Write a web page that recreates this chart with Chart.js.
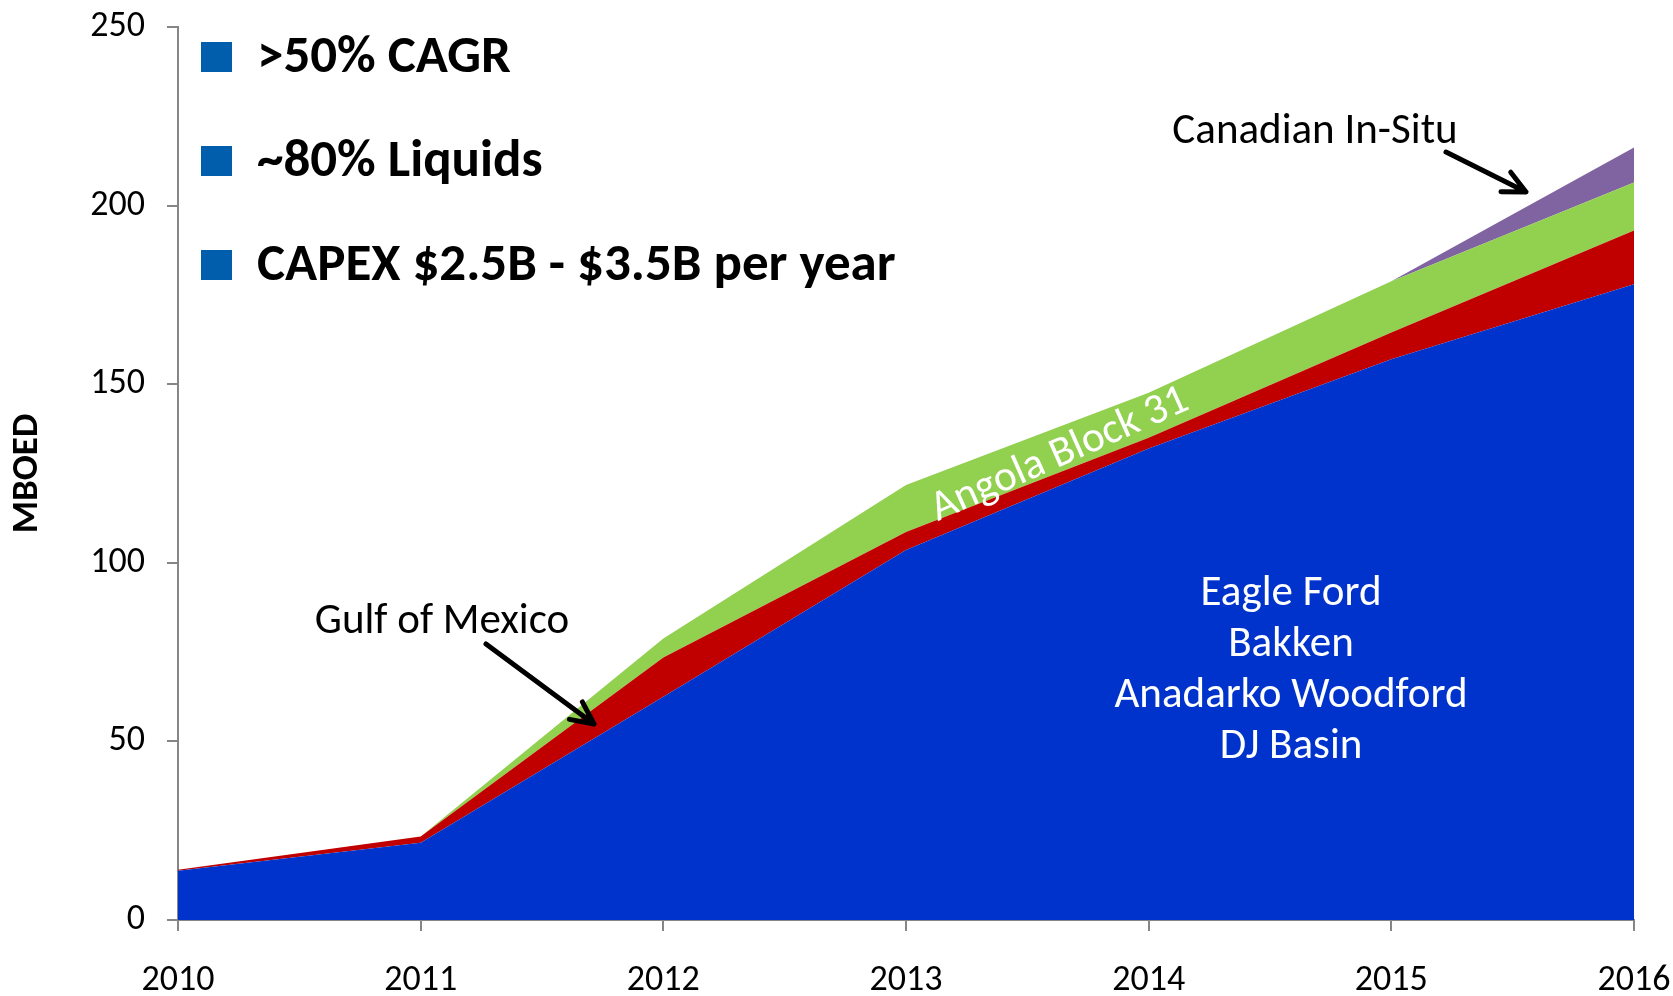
<!DOCTYPE html>
<html>
<head>
<meta charset="utf-8">
<script src="https://cdn.jsdelivr.net/npm/chart.js@4.4.0/dist/chart.umd.min.js"></script>
<style>
  html, body { margin: 0; padding: 0; background: #fff; }
  #wrap { width: 1673px; height: 996px; }
</style>
</head>
<body>
<div id="wrap"><canvas id="prodChart" width="1673" height="996"></canvas></div>
<script>
// chart data
const years = ["2010", "2011", "2012", "2013", "2014", "2015", "2016"];
const onshore = [13.8, 21.6, 62.5, 103.6, 132, 157, 178];   // Eagle Ford, Bakken, ...
const gulfOfMexico = [0.3, 1.8, 11, 5, 3, 7.5, 15];
const angola = [0, 0, 5.3, 13.2, 12.6, 14.3, 13.5];
const canadianInSitu = [0, 0, 0, 0, 0, 0, 9.8];
const yTicks = [0, 50, 100, 150, 200, 250];
const bullets = [">50% CAGR", "~80% Liquids", "CAPEX $2.5B - $3.5B per year"];
const basinNames = ["Eagle Ford", "Bakken", "Anadarko Woodford", "DJ Basin"];

const FONT = "Carlito, Lato, sans-serif";
const AXIS_GREY = "#868686";

function arrow(ctx, x1, y1, x2, y2) {
    const a = Math.atan2(y2 - y1, x2 - x1);
    const h = 25;
    ctx.save();
    ctx.strokeStyle = "#000";
    ctx.lineWidth = 5;
    ctx.lineCap = "round";
    ctx.lineJoin = "round";
    ctx.beginPath();
    ctx.moveTo(x1, y1);
    ctx.lineTo(x2, y2);
    ctx.moveTo(x2 - h * Math.cos(a - 0.45), y2 - h * Math.sin(a - 0.45));
    ctx.lineTo(x2, y2);
    ctx.lineTo(x2 - h * Math.cos(a + 0.45), y2 - h * Math.sin(a + 0.45));
    ctx.stroke();
    ctx.restore();
}

// bullets, labels and arrows drawn on top
const annotations = {
    id: "annotations",
    afterDraw(chart) {
        const ctx = chart.ctx;
        ctx.save();

        // bullet list top-left
        ctx.textBaseline = "middle";
        ctx.textAlign = "left";
        ctx.font = "bold 53px " + FONT;
        bullets.forEach(function (txt, i) {
            const cy = 57 + i * 104;
            ctx.fillStyle = "#005EAD";
            ctx.fillRect(201, cy - 15, 31, 30);
            ctx.fillStyle = "#000";
            ctx.fillText(txt, 257, cy + 2);
        });

        // basin names on the blue area
        ctx.fillStyle = "#fff";
        ctx.textAlign = "center";
        ctx.font = "43px " + FONT;
        basinNames.forEach(function (txt, i) {
            ctx.fillText(txt, 1291, 594 + i * 51);
        });

        // Angola label along the green band
        ctx.save();
        ctx.translate(1060, 455);
        ctx.rotate(-24 * Math.PI / 180);
        ctx.fillText("Angola Block 31", 0, 0);
        ctx.restore();

        // callouts
        ctx.fillStyle = "#000";
        ctx.fillText("Canadian In-Situ", 1315, 132);
        ctx.fillText("Gulf of Mexico", 442, 622);
        arrow(ctx, 1446, 152, 1526, 192);
        arrow(ctx, 486, 644, 594, 724);

        ctx.restore();
    }
};

function area(label, data, color, fill) {
    return {
        label: label,
        data: data,
        backgroundColor: color,
        borderColor: color,
        borderWidth: 0,
        pointRadius: 0,
        fill: fill,
        tension: 0
    };
}

// keep the plot box fixed; labels may overhang into the margins
function noOverhang(s) {
    s.paddingTop = 0;
    s.paddingBottom = 0;
    s.paddingLeft = 0;
    s.paddingRight = 0;
}

new Chart(document.getElementById("prodChart"), {
    type: "line",
    data: {
        labels: years,
        datasets: [
            area("Onshore", onshore, "#0033CC", "origin"),
            area("Gulf of Mexico", gulfOfMexico, "#C00000", "-1"),
            area("Angola Block 31", angola, "#92D050", "-1"),
            area("Canadian In-Situ", canadianInSitu, "#8064A2", "-1")
        ]
    },
    options: {
        responsive: false,
        animation: false,
        layout: { padding: { left: 0, right: 39, top: 27, bottom: 0 } },
        plugins: {
            legend: { display: false },
            tooltip: { enabled: false }
        },
        scales: {
            x: {
                offset: false,
                grid: { display: true, drawOnChartArea: false, drawTicks: true, tickLength: 11, color: AXIS_GREY, lineWidth: 2 },
                border: { display: true, color: AXIS_GREY, width: 2 },
                ticks: { color: "#000", font: { family: FONT, size: 36 }, padding: 28, maxRotation: 0, autoSkip: false },
                afterFit: function (s) { s.height = 76; noOverhang(s); }
            },
            y: {
                stacked: true,
                min: 0,
                max: 250,
                afterBuildTicks: function (s) { s.ticks = yTicks.map(function (v) { return { value: v }; }); },
                grid: { display: true, drawOnChartArea: false, drawTicks: true, tickLength: 11, color: AXIS_GREY, lineWidth: 2 },
                border: { display: true, color: AXIS_GREY, width: 2 },
                ticks: { color: "#000", font: { family: FONT, size: 36 }, padding: 22 },
                title: {
                    display: true,
                    text: "MBOED",
                    color: "#000",
                    font: { family: FONT, size: 37, weight: "bold" },
                    padding: { top: 6, bottom: 0 }
                },
                afterFit: function (s) { s.width = 178; noOverhang(s); }
            }
        }
    },
    plugins: [annotations]
});
</script>
</body>
</html>
